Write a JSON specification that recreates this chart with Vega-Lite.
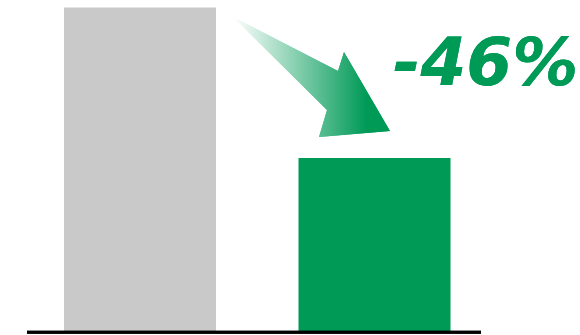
{
  "$schema": "https://vega.github.io/schema/vega-lite/v6.json",
  "width": 580,
  "height": 331,
  "autosize": "none",
  "padding": {"left": 0, "top": 0, "right": 0, "bottom": 4},
  "background": "white",
  "config": {"view": {"stroke": null}},
  "data": {"values": [
    {"label": "Before", "pos": 1, "value": 100},
    {"label": "After", "pos": 2, "value": 53.5}
  ]},
  "layer": [
    {
      "mark": {"type": "bar", "width": 152},
      "encoding": {
        "x": {"field": "pos", "type": "quantitative", "scale": {"domain": [0.40299, 2.87633], "nice": false, "zero": false, "padding": 0}, "axis": null},
        "y": {"field": "value", "type": "quantitative", "scale": {"domain": [0, 102.3], "nice": false, "padding": 0}, "axis": null},
        "color": {"field": "label", "type": "nominal", "scale": {"domain": ["Before", "After"], "range": ["#C8C9C8", "#009A57"]}, "legend": null}
      }
    },
    {
      "mark": {"type": "rule", "stroke": "#000000", "strokeWidth": 3, "yOffset": 1.3},
      "encoding": {
        "x": {"datum": 0.51813, "type": "quantitative"},
        "x2": {"datum": 2.45416},
        "y": {"datum": 0, "type": "quantitative"}
      }
    },
    {
      "mark": {
        "type": "point",
        "filled": true,
        "opacity": 1,
        "size": 24649,
        "shape": "M -1 -0.764 L 0.3376 -0.0764 L 0.414 -0.3185 L 1 0.688 L 0.0955 0.764 L 0.1975 0.4204 Z",
        "fill": {"gradient": "linear", "x1": 0, "y1": 0, "x2": 1, "y2": 0, "stops": [
          {"offset": 0, "color": "#ffffff"},
          {"offset": 0.85, "color": "#009A57"},
          {"offset": 1, "color": "#009A57"}
        ]},
        "stroke": null
      },
      "encoding": {
        "x": {"datum": 1.73135, "type": "quantitative"},
        "y": {"datum": 78.5, "type": "quantitative"}
      }
    },
    {
      "mark": {"type": "text", "align": "left", "baseline": "alphabetic", "font": "DejaVu Sans", "fontWeight": "bold", "fontStyle": "italic", "fontSize": 66, "color": "#009A57"},
      "encoding": {
        "x": {"datum": 2.0789, "type": "quantitative"},
        "y": {"datum": 76.03, "type": "quantitative"},
        "text": {"value": "-46%"}
      }
    }
  ]
}
